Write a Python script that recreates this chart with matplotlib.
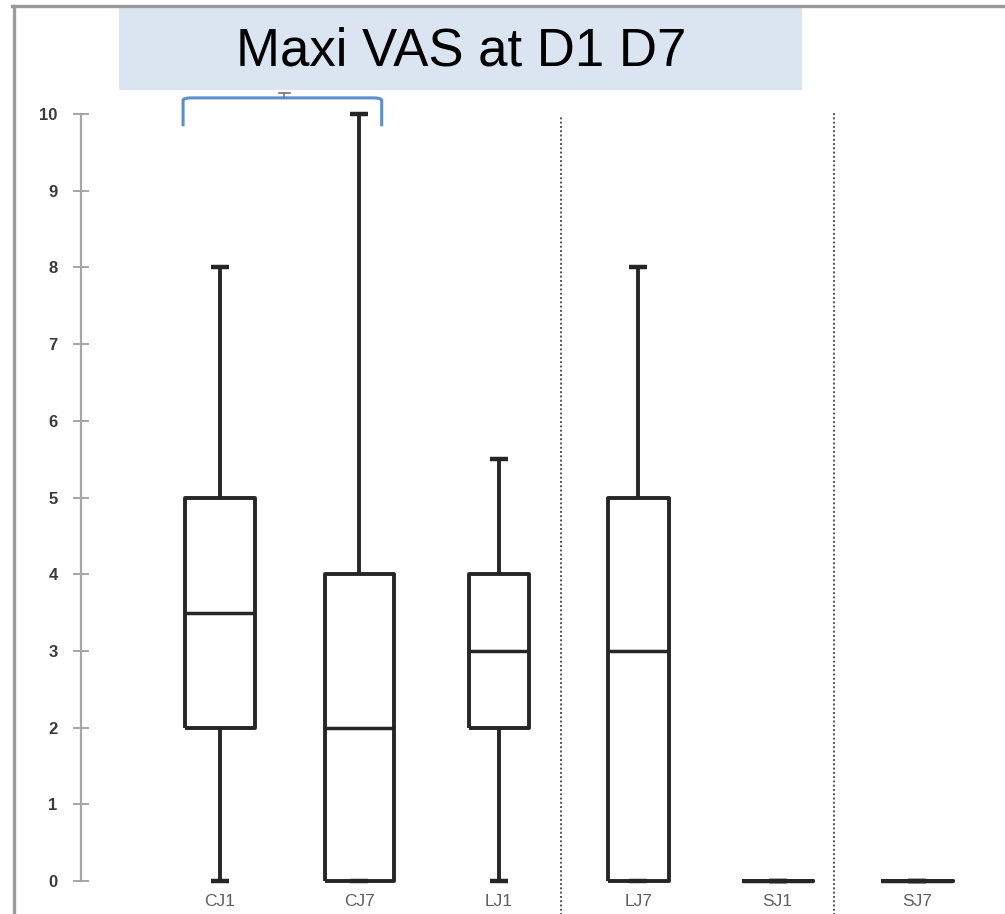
import matplotlib
matplotlib.use('Agg')
import matplotlib.pyplot as plt
from matplotlib.lines import Line2D
from matplotlib.patches import Rectangle
from matplotlib.path import Path
from matplotlib.patches import PathPatch

# groups and five-number summaries (max VAS score)
groups = ["CJ1", "CJ7", "LJ1", "LJ7", "SJ1", "SJ7"]
whisker_low = [0, 0, 0, 0, 0, 0]
q1 = [2, 0, 2, 0, 0, 0]
median = [3.5, 2, 3, 3, 0, 0]
q3 = [5, 4, 4, 5, 0, 0]
whisker_high = [8, 10, 5.5, 8, 0, 0]
box_widths = [0.5, 0.5, 0.43, 0.44, 0.51, 0.51]
yticks = [0, 1, 2, 3, 4, 5, 6, 7, 8, 9, 10]

W, H = 1005, 914
fig = plt.figure(figsize=(W / 100, H / 100), dpi=100)

# axes: x = 0 sits on the y spine, one unit per group
ax = fig.add_axes([80.6 / W, (H - 881) / H, 1 - 80.6 / W, (881 - 114) / H])
ax.set_xlim(0, (W - 80.6) / 139.4)
ax.set_ylim(0, 10)

stats = []
for i, g in enumerate(groups):
    stats.append(dict(label=g, whislo=whisker_low[i], q1=q1[i], med=median[i],
                      q3=q3[i], whishi=whisker_high[i]))

positions = list(range(1, len(groups) + 1))
lc = '#262626'
arts = ax.bxp(stats, positions=positions, widths=box_widths, showfliers=False,
              boxprops=dict(color=lc, linewidth=2.8),
              medianprops=dict(color=lc, linewidth=2.5),
              whiskerprops=dict(color=lc, linewidth=2.8),
              capprops=dict(color=lc, linewidth=3.2),
              capwidths=0.13)
for key in arts:
    for a in arts[key]:
        a.set_clip_on(False)
        a.set_solid_capstyle('butt')

# dotted separators between groups
for xs, ytop in [(3.446, 9.96), (5.405, 10.01)]:
    ax.add_line(Line2D([xs, xs], [-0.5, ytop], color='#555555', linewidth=1.4,
                       linestyle=(0, (1, 1.2)), clip_on=False))

# y axis styling
for s in ['top', 'right', 'bottom']:
    ax.spines[s].set_visible(False)
ax.spines['left'].set_color('#a6a6a6')
ax.spines['left'].set_linewidth(1.6)
ax.set_yticks(yticks)
ax.tick_params(axis='y', direction='inout', length=11, width=1.4, color='#a6a6a6',
               pad=11, labelsize=12, labelcolor='#3a3a3a')
for t in ax.get_yticklabels():
    t.set_fontfamily('Liberation Sans')
    t.set_fontweight('bold')
ax.set_xticks(positions)
ax.set_xticklabels(groups, fontsize=12.5, color='#5e5e5e', fontfamily='Liberation Sans')
ax.tick_params(axis='x', length=0, pad=9)

# comparison bracket over CJ1 / CJ7
bx0, bx1, btop, bbot = 0.735, 2.16, 10.21, 9.84
r = 0.06
verts = [(bx0, bbot), (bx0, btop - r * 0.55), (bx0, btop), (bx0 + r, btop),
         (bx1 - r, btop), (bx1, btop), (bx1, btop - r * 0.55), (bx1, bbot)]
codes = [Path.MOVETO, Path.LINETO, Path.CURVE3, Path.CURVE3,
         Path.LINETO, Path.CURVE3, Path.CURVE3, Path.LINETO]
ax.add_patch(PathPatch(Path(verts, codes), facecolor='none', edgecolor='#5b8fd0',
                       linewidth=2.2, clip_on=False))
xm = 1.46
ax.add_line(Line2D([xm - 0.04, xm + 0.04], [10.27, 10.27], color='#777777',
                   linewidth=1.2, clip_on=False))
ax.add_line(Line2D([xm, xm], [10.27, 10.21], color='#777777', linewidth=1.2,
                   clip_on=False))

# outer frame (left and top edges)
fig.add_artist(Line2D([13.5 / W, 13.5 / W], [0, 1 - 6 / H], color='#9a9a9a',
                      linewidth=2.4, transform=fig.transFigure))
fig.add_artist(Line2D([12 / W, 1], [1 - 6 / H, 1 - 6 / H], color='#9a9a9a',
                      linewidth=2.4, transform=fig.transFigure))

# title banner
fig.add_artist(Rectangle((119 / W, 1 - 90 / H), (802 - 119) / W, (90 - 8) / H,
                         facecolor='#dbe5f1', edgecolor='none',
                         transform=fig.transFigure))
fig.text(461 / W, 1 - 51 / H, "Maxi VAS at D1 D7", fontsize=38,
         fontfamily='Liberation Sans', color='black', ha='center', va='center')

fig.savefig('out.png', dpi=100)
